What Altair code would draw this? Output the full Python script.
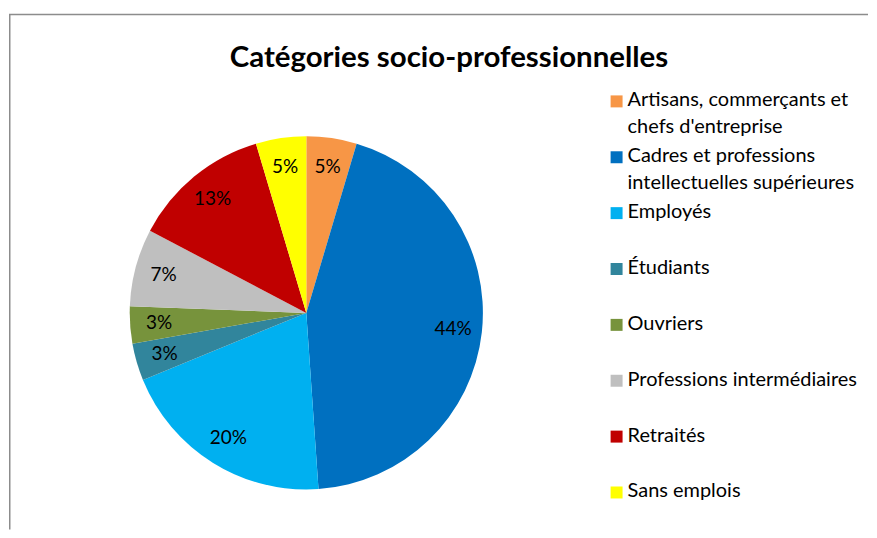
import altair as alt
import pandas as pd

title_text = "Catégories socio-professionnelles"
categories = [
    "Artisans, commerçants et\nchefs d'entreprise",
    "Cadres et professions\nintellectuelles supérieures",
    "Employés",
    "Étudiants",
    "Ouvriers",
    "Professions intermédiaires",
    "Retraités",
    "Sans emplois",
]
values = [4.6, 44.3, 19.9, 3.4, 3.4, 7.1, 12.7, 4.6]
colors = ["#F79646", "#0070C0", "#00B0F0", "#31859C", "#77933C", "#BFBFBF", "#C00000", "#FFFF00"]

df = pd.DataFrame({"cat": categories, "value": values, "idx": list(range(len(categories)))})

W, H = 861, 522
CX, CY, R = 298, 305, 177
FONT = "Lato"

base = alt.Chart(df)
color = alt.Color("cat:N", scale=alt.Scale(domain=categories, range=colors), legend=None)

pie = base.mark_arc(radius=R, strokeWidth=0).encode(
    theta=alt.Theta("value:Q", stack=True),
    order=alt.Order("idx:Q"),
    color=color,
    x=alt.value(CX), y=alt.value(CY),
)

labels = base.transform_joinaggregate(total="sum(value)").transform_calculate(
    pct="datum.value / datum.total"
).mark_text(radius=148, font=FONT, fontSize=19, color="#000000").encode(
    theta=alt.Theta("value:Q", stack=True),
    order=alt.Order("idx:Q"),
    text=alt.Text("pct:Q", format=".0%"),
    x=alt.value(CX), y=alt.value(CY),
)

yscale = alt.Scale(domain=[0, 7], range=[93, 485])
leg_sym = base.mark_square(size=144, opacity=1).encode(
    x=alt.value(609),
    y=alt.Y("idx:Q", scale=yscale, axis=None),
    color=color,
)
leg_txt = base.mark_text(
    align="left", baseline="top", dy=-11, lineBreak="\n", lineHeight=27,
    font=FONT, fontSize=20, color="#000000",
).encode(
    x=alt.value(620),
    y=alt.Y("idx:Q", scale=yscale, axis=None),
    text="cat:N",
)

title = alt.Chart(pd.DataFrame({"t": [title_text]})).mark_text(
    font=FONT, fontSize=29.5, fontWeight="bold", color="#000000", baseline="alphabetic"
).encode(x=alt.value(441), y=alt.value(59), text="t:N")

border_df = pd.DataFrame({"k": [0]})
top_border = alt.Chart(border_df).mark_rule(color="#8c8c8c", strokeWidth=1.5).encode(
    x=alt.value(0), x2=alt.value(W), y=alt.value(6)
)
left_border = alt.Chart(border_df).mark_rule(color="#8c8c8c", strokeWidth=1.5).encode(
    x=alt.value(0.75), y=alt.value(6), y2=alt.value(H)
)

chart = alt.layer(top_border, left_border, pie, labels, leg_sym, leg_txt, title).properties(
    width=W, height=H, padding=0, background="white"
).configure_view(strokeWidth=0, stroke="transparent")

chart.save("out.html", embed_options={"renderer": "svg", "actions": False})
